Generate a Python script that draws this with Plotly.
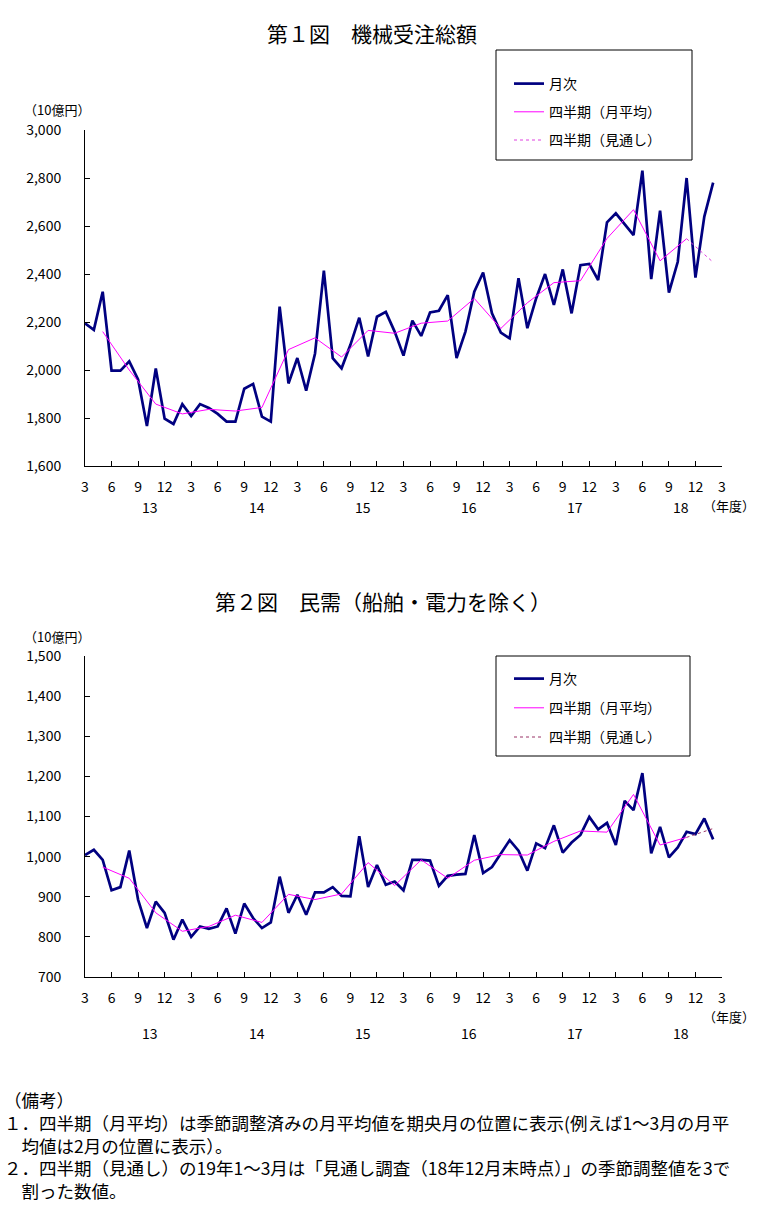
import plotly.graph_objects as go

W, H = 772, 1209
FONT = "Noto Sans CJK JP"

# ---------------- data ----------------
# month index: 0 = 2013年3月 ... 71 = 2019年2月
months = list(range(72))
tick_pos = list(range(0, 73, 3))
tick_text = ["3", "6", "9", "12"] * 6 + ["3"]
fiscal_years = ["13", "14", "15", "16", "17", "18"]
fiscal_year_pos = [7.4 + 12 * i for i in range(6)]

# quarterly averages are shown at the middle month of each quarter
quarter_pos = list(range(2, 69, 3))
forecast_pos = 71  # 2019年1~3月 の期央月

# 第1図 機械受注総額 (10億円)
total_monthly = [
    2194, 2167, 2326, 1997, 1997, 2036, 1961, 1767, 2006, 1797, 1775, 1858,
    1808, 1858, 1842, 1817, 1785, 1785, 1922, 1942, 1806, 1785, 2264, 1944,
    2050, 1914, 2069, 2414, 2049, 2007, 2105, 2218, 2056, 2222, 2242, 2160,
    2060, 2206, 2142, 2240, 2247, 2312, 2050, 2160, 2326, 2406, 2236, 2156,
    2132, 2382, 2174, 2299, 2400, 2271, 2419, 2236, 2437, 2442, 2375, 2615,
    2653, 2608, 2562, 2831, 2379, 2664, 2322, 2451, 2800, 2385, 2639, 2781,
]
total_quarterly = [
    2160, 2000, 1858, 1817, 1836, 1829, 1844, 2085, 2134, 2054, 2165, 2153,
    2195, 2204, 2298, 2173, 2280, 2364, 2372, 2548, 2668, 2455, 2547,
]
total_forecast = 2449

# 第2図 民需(船舶・電力を除く) (10億円)
private_monthly = [
    1004, 1017, 992, 916, 924, 1015, 893, 822, 888, 860, 793, 843,
    800, 826, 820, 826, 871, 808, 883, 847, 822, 836, 950, 860,
    905, 855, 911, 911, 924, 902, 901, 1051, 924, 979, 930, 938,
    916, 992, 992, 990, 927, 952, 955, 957, 1054, 959, 974, 1008,
    1041, 1015, 965, 1033, 1021, 1078, 1010, 1035, 1054, 1099, 1068, 1084,
    1029, 1139, 1116, 1208, 1008, 1074, 998, 1023, 1062, 1056, 1095, 1043,
]
private_quarterly = [
    974, 946, 860, 814, 826, 854, 836, 906, 893, 907, 985, 928,
    992, 946, 991, 1005, 1004, 1038, 1064, 1061, 1155, 1029, 1048,
]
private_forecast = 1070

legend_names = ["月次", "四半期（月平均）", "四半期（見通し）"]
titles = ["第１図　機械受注総額", "第２図　民需（船舶・電力を除く）"]
notes = [
    "（備考）",
    "１．四半期（月平均）は季節調整済みの月平均値を期央月の位置に表示(例えば1～3月の月平",
    "　均値は2月の位置に表示）。",
    "２．四半期（見通し）の19年1～3月は「見通し調査（18年12月末時点）」の季節調整値を3で",
    "　割った数値。",
]

# ---------------- styles ----------------
NAVY = "#000080"
MAGENTA = "#FF00FF"
FC1 = "#E040E0"
FC2 = "#993366"


def px_x(x):
    return x / W


def px_y(y):
    return 1 - y / H


fig = go.Figure()

panels = [
    dict(xa="x", ya="y", leg="legend", m=total_monthly, q=total_quarterly,
         f=total_forecast, fc=FC1),
    dict(xa="x2", ya="y2", leg="legend2", m=private_monthly, q=private_quarterly,
         f=private_forecast, fc=FC2),
]

for i, p in enumerate(panels):
    fig.add_trace(go.Scatter(
        x=months, y=p["m"], mode="lines", name=legend_names[0],
        line=dict(color=NAVY, width=2.7), xaxis=p["xa"], yaxis=p["ya"],
        legend=p["leg"], legendgroup=f"m{i}"))
    fig.add_trace(go.Scatter(
        x=quarter_pos, y=p["q"], mode="lines", name=legend_names[1],
        line=dict(color=MAGENTA, width=1), xaxis=p["xa"], yaxis=p["ya"],
        legend=p["leg"], legendgroup=f"q{i}"))
    fig.add_trace(go.Scatter(
        x=[quarter_pos[-1], forecast_pos], y=[p["q"][-1], p["f"]], mode="lines",
        name=legend_names[2], line=dict(color=p["fc"], width=1, dash="dot"),
        xaxis=p["xa"], yaxis=p["ya"], legend=p["leg"], legendgroup=f"f{i}"))

axis_common = dict(showline=True, linecolor="black", linewidth=1, ticks="inside",
                   ticklen=5, tickcolor="black", showgrid=False, zeroline=False,
                   automargin=False,
                   tickfont=dict(family=FONT, size=14, color="black"))

xdom = [px_x(85), px_x(722)]
fig.update_layout(
    width=W, height=H, margin=dict(l=0, r=0, t=0, b=0, pad=0, autoexpand=False),
    paper_bgcolor="white", plot_bgcolor="white",
    font=dict(family=FONT, color="black"),
    xaxis=dict(domain=xdom, anchor="y", range=[0, 72], tickvals=tick_pos,
               ticktext=tick_text, ticklabelstandoff=8, **axis_common),
    yaxis=dict(domain=[px_y(466), px_y(130)], anchor="x", range=[1600, 3000],
               dtick=200, tickformat=",", ticklabelstandoff=20, **axis_common),
    xaxis2=dict(domain=xdom, anchor="y2", range=[0, 72], tickvals=tick_pos,
                ticktext=tick_text, ticklabelstandoff=8, **axis_common),
    yaxis2=dict(domain=[px_y(977), px_y(656)], anchor="x2", range=[700, 1500],
                dtick=100, tickformat=",", ticklabelstandoff=20, **axis_common),
    legend=dict(x=px_x(509), y=px_y(68), xanchor="left", yanchor="top",
                bgcolor="rgba(0,0,0,0)", borderwidth=0, tracegroupgap=7,
                font=dict(family=FONT, size=14, color="black")),
    legend2=dict(x=px_x(509), y=px_y(663), xanchor="left", yanchor="top",
                 bgcolor="rgba(0,0,0,0)", borderwidth=0, tracegroupgap=8,
                 font=dict(family=FONT, size=14, color="black")),
)

# legend frames
fig.add_shape(type="rect", xref="paper", yref="paper",
              x0=px_x(496), x1=px_x(692), y0=px_y(160), y1=px_y(50),
              line=dict(color="black", width=1))
fig.add_shape(type="rect", xref="paper", yref="paper",
              x0=px_x(496), x1=px_x(690), y0=px_y(756), y1=px_y(656),
              line=dict(color="black", width=1))


def label(text, x, y, size, xanchor="center", xref="paper", yanchor="middle"):
    return dict(text=text, x=x, y=px_y(y), xref=xref, yref="paper",
                xanchor=xanchor, yanchor=yanchor, showarrow=False,
                font=dict(size=size), align="left")


ann = []
ann.append(label(titles[0], px_x(372), 33, 21))
ann.append(label(titles[1], px_x(383), 601, 21))
for yy in (110, 636):
    ann.append(label("（10億円）", px_x(22), yy, 13, xanchor="left"))
for xa, yy, ny in (("x", 507, 506), ("x2", 1033, 1017)):
    for fy, pos in zip(fiscal_years, fiscal_year_pos):
        ann.append(label(fy, pos, yy, 14, xref=xa))
    ann.append(label("（年度）", px_x(729), ny, 13))
ann.append(label("<br>".join(notes), px_x(2), 1085, 17.5, xanchor="left",
                 yanchor="top"))

fig.update_layout(annotations=ann)
fig.write_html(
    "out.html",
    config={"displayModeBar": False},
    post_script="document.body.style.margin='0';document.body.style.overflow='hidden';",
)
